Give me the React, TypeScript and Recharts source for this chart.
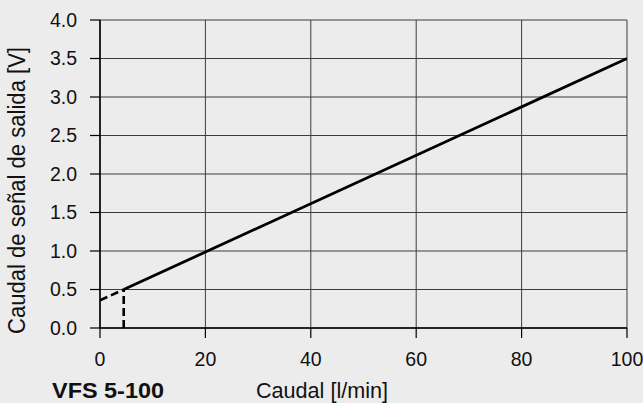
import * as React from 'react';
import {
    CartesianGrid,
    Label,
    Line,
    LineChart,
    XAxis,
    YAxis,
} from 'recharts';

// flow [l/min] -> output signal [V]
const flowMain = [4.5, 100];
const voltMain = [0.5, 3.5];
// dashed extension below the measuring range
const flowExt = [0, 4.5];
const voltExt = [0.36, 0.5];
// dashed marker at the range start
const flowStart = [4.5, 4.5];
const voltStart = [0, 0.5];

const xTicks = [0, 20, 40, 60, 80, 100];
const yTicks = [0, 0.5, 1, 1.5, 2, 2.5, 3, 3.5, 4];

const toPoints = (xs: number[], ys: number[]) => xs.map((x, i) => ({ x, y: ys[i] }));

const FONT = '"Liberation Sans", Arial, Helvetica, sans-serif';

export default function App() {
    const mainData = React.useMemo(() => toPoints(flowMain, voltMain), []);
    const extData = React.useMemo(() => toPoints(flowExt, voltExt), []);
    const startData = React.useMemo(() => toPoints(flowStart, voltStart), []);

    return (
        <div style={{ width: 643, height: 403, background: '#ececec' }}>
            <style>{'body{margin:0}'}</style>
            <LineChart
                width={643}
                height={403}
                margin={{ top: 20, right: 16, left: 0, bottom: 0 }}
            >
                <CartesianGrid stroke="#3c3c3c" strokeWidth={1} />
                <XAxis
                    type="number"
                    dataKey="x"
                    domain={[0, 100]}
                    ticks={xTicks}
                    allowDataOverflow
                    height={75}
                    tickSize={10}
                    tickMargin={14}
                    axisLine={{ stroke: '#000', strokeWidth: 1.5 }}
                    tickLine={{ stroke: '#000', strokeWidth: 1.2 }}
                    tick={{ fontSize: 19.5, fill: '#111', fontFamily: FONT }}
                >
                    <Label
                        content={() => (
                            <g>
                                <text
                                    x={52}
                                    y={397.5}
                                    fontFamily={FONT}
                                    fontSize={22}
                                    fontWeight="bold"
                                    fill="#111"
                                    textLength={112}
                                    lengthAdjust="spacingAndGlyphs"
                                >
                                    VFS 5-100
                                </text>
                                <text
                                    x={256}
                                    y={397.5}
                                    fontFamily={FONT}
                                    fontSize={22}
                                    fill="#111"
                                    textLength={132}
                                    lengthAdjust="spacingAndGlyphs"
                                >
                                    Caudal [l/min]
                                </text>
                            </g>
                        )}
                    />
                </XAxis>
                <YAxis
                    type="number"
                    domain={[0, 4]}
                    ticks={yTicks}
                    allowDataOverflow
                    width={100}
                    tickSize={10}
                    tickMargin={13}
                    tickFormatter={(v: number) => v.toFixed(1)}
                    axisLine={{ stroke: '#000', strokeWidth: 1.5 }}
                    tickLine={{ stroke: '#000', strokeWidth: 1.2 }}
                    tick={{ fontSize: 19.5, fill: '#111', fontFamily: FONT }}
                >
                    <Label
                        content={() => (
                            <text
                                x={25}
                                y={190.5}
                                transform="rotate(-90 25 190.5)"
                                textAnchor="middle"
                                fontFamily={FONT}
                                fontSize={23}
                                fill="#111"
                                textLength={287}
                                lengthAdjust="spacingAndGlyphs"
                            >
                                Caudal de señal de salida [V]
                            </text>
                        )}
                    />
                </YAxis>
                <Line
                    data={extData}
                    dataKey="y"
                    type="linear"
                    stroke="#000"
                    strokeWidth={2.6}
                    strokeDasharray="8 4"
                    dot={false}
                    activeDot={false}
                    isAnimationActive={false}
                />
                <Line
                    data={startData}
                    dataKey="y"
                    type="linear"
                    stroke="#000"
                    strokeWidth={2.6}
                    strokeDasharray="8 4"
                    dot={false}
                    activeDot={false}
                    isAnimationActive={false}
                />
                <Line
                    data={mainData}
                    dataKey="y"
                    type="linear"
                    stroke="#000"
                    strokeWidth={2.8}
                    dot={false}
                    activeDot={false}
                    isAnimationActive={false}
                />
            </LineChart>
        </div>
    );
}
